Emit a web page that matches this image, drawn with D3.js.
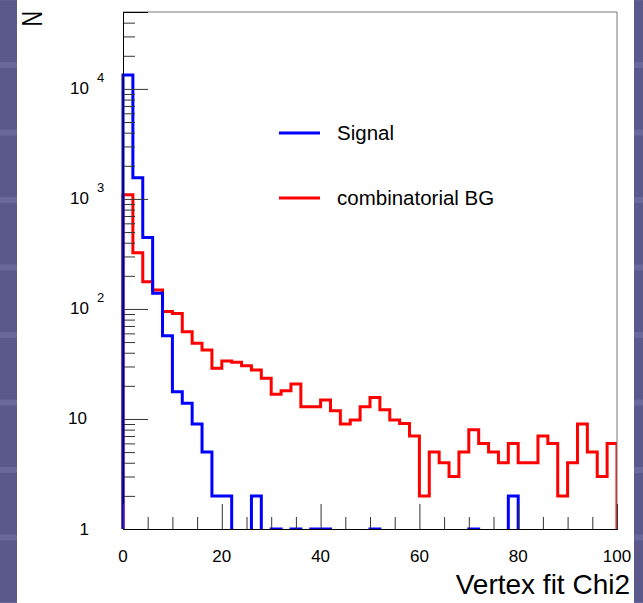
<!DOCTYPE html>
<html>
<head>
<meta charset="utf-8">
<script src="https://cdn.jsdelivr.net/npm/d3@7"></script>
<style>
  body { margin: 0; background: #5b598b; }
  text { font-family: "Liberation Sans", Arial, Helvetica, sans-serif; fill: #000; }
</style>
</head>
<body>
<div id="chart-area"></div>
<script>
// Histogram data, bins of width 2 from 0 to 100
const binEdges = d3.range(0, 101, 2);
const signal = [
  13400, 1560, 445, 139, 57, 17.7, 13.9, 9, 5, 2,
  2, 0, 0, 2, 0, 1, 0, 1, 0, 1,
  1, 0, 0, 0, 0, 1, 0, 0, 0, 0,
  0, 0, 0, 0, 0, 1, 0, 0, 0, 2,
  0, 0, 0, 0, 0, 0, 0, 0, 0, 0
];
const combBG = [
  1090, 325, 177, 149, 95, 91, 62, 48.7, 42.4, 28.9,
  33.7, 32.8, 30.5, 27.9, 23.4, 16.8, 18.1, 20.8, 12.9, 12.9,
  14.9, 11.9, 9, 9.8, 12.9, 15.7, 12.1, 9.8, 9.1, 7,
  2, 5, 4, 3, 5, 8, 6, 5, 4, 6,
  4, 4, 7, 6, 2, 4, 9, 5, 3, 6
];
const seriesNames = ["Signal", "combinatorial BG"];
const seriesColors = ["#0000ff", "#ff0000"];
const xTicks = [0, 20, 40, 60, 80, 100];
const yTicks = [1, 10, 100, 1000, 10000];

const W = 643, H = 603;
const frame = { left: 123, right: 617, top: 12, bottom: 529 };

const svg = d3.select("#chart-area")
  .append("svg")
    .attr("width", W)
    .attr("height", H);

// slide background with faint stripes, white canvas on top
svg.append("rect").attr("width", W).attr("height", H).attr("fill", "#5b598b");
svg.selectAll(".stripe")
  .data(d3.range(-1, 9))
  .enter().append("rect")
    .attr("class", "stripe")
    .attr("x", 0)
    .attr("y", d => 62 + d * 67.5)
    .attr("width", W)
    .attr("height", 6)
    .attr("fill", "#6a689a");
svg.append("rect")
  .attr("x", 17).attr("y", 0)
  .attr("width", 617).attr("height", H)
  .attr("fill", "#fff");

// Scales
const x = d3.scaleLinear().domain([0, 100]).range([frame.left, frame.right]);
const y = d3.scaleLog().domain([1, 50000]).range([frame.bottom, frame.top]);

svg.append("clipPath").attr("id", "clip")
  .append("rect")
    .attr("x", frame.left - 2)
    .attr("y", frame.top)
    .attr("width", frame.right - frame.left + 2)
    .attr("height", frame.bottom - frame.top);

// step path, empty bins fall below the frame
function stepPath(values) {
  const yv = v => v > 0 ? y(v) : frame.bottom + 20;
  let p = `M${x(0)},${frame.bottom + 20}`;
  values.forEach((v, i) => {
    p += `L${x(binEdges[i])},${yv(v)}L${x(binEdges[i + 1])},${yv(v)}`;
  });
  p += `L${x(100)},${frame.bottom + 20}`;
  return p;
}

const hist = svg.append("g").attr("clip-path", "url(#clip)");
[combBG, signal].forEach((vals, k) => {
  hist.append("path")
    .attr("d", stepPath(vals))
    .attr("fill", "none")
    .attr("stroke", seriesColors[1 - k])
    .attr("stroke-width", 3)
    .attr("stroke-linejoin", "miter");
});

// Frame
svg.append("line")
  .attr("x1", frame.left).attr("x2", frame.right)
  .attr("y1", frame.top).attr("y2", frame.top)
  .attr("stroke", "#777");
svg.append("line")
  .attr("x1", frame.right).attr("x2", frame.right)
  .attr("y1", frame.top).attr("y2", frame.bottom)
  .attr("stroke", "#777");

// Axes (ticks drawn inward)
const yMinor = [];
for (let e = 0; e <= 4; e++) {
  for (let m = 2; m <= 9; m++) {
    const v = m * Math.pow(10, e);
    if (v <= 50000) yMinor.push(v);
  }
}
const yAxis = d3.axisRight(y)
  .tickValues(yTicks)
  .tickSize(25)
  .tickFormat("");
const yAxisMinor = d3.axisRight(y)
  .tickValues(yMinor)
  .tickSize(12)
  .tickFormat("");
const xMinor = d3.range(5, 100, 5).filter(d => d % 20 !== 0);
const xAxis = d3.axisTop(x)
  .tickValues(xTicks)
  .tickSize(25)
  .tickFormat("");
const xAxisMinor = d3.axisTop(x)
  .tickValues(xMinor)
  .tickSize(12)
  .tickFormat("");

[yAxisMinor, yAxis].forEach(ax => {
  svg.append("g")
    .attr("transform", `translate(${frame.left},0)`)
    .call(ax)
    .call(g => g.select(".domain").attr("stroke", "#000"))
    .call(g => g.selectAll(".tick line").attr("stroke", "#333"));
});
[xAxisMinor, xAxis].forEach(ax => {
  svg.append("g")
    .attr("transform", `translate(0,${frame.bottom})`)
    .call(ax)
    .call(g => g.select(".domain").attr("stroke", "#000"))
    .call(g => g.selectAll(".tick line").attr("stroke", "#333"));
});

// Tick labels
svg.selectAll(".xlab")
  .data(xTicks)
  .enter().append("text")
    .attr("class", "xlab")
    .attr("x", d => x(d))
    .attr("y", 562)
    .attr("text-anchor", "middle")
    .style("font-size", "17px")
    .text(d => d);

yTicks.forEach(v => {
  const e = Math.round(Math.log10(v));
  const ty = y(v);
  if (e <= 1) {
    svg.append("text")
      .attr("x", e === 0 ? 89 : 87)
      .attr("y", ty + 5.5)
      .attr("text-anchor", "end")
      .style("font-size", "17px")
      .text(v);
  } else {
    svg.append("text")
      .attr("x", 89)
      .attr("y", ty + 5.5)
      .attr("text-anchor", "end")
      .style("font-size", "17px")
      .text("10");
    svg.append("text")
      .attr("x", 97)
      .attr("y", ty - 6.5)
      .style("font-size", "13px")
      .text(e);
  }
});

// Axis titles
svg.append("text")
  .attr("x", 630)
  .attr("y", 594)
  .attr("text-anchor", "end")
  .style("font-size", "28px")
  .text("Vertex fit Chi2");

svg.append("text")
  .attr("transform", "translate(42,11) rotate(-90) scale(0.72,1)")
  .attr("text-anchor", "end")
  .style("font-size", "30px")
  .text("N");

// Legend
const legend = svg.selectAll(".legend")
  .data(seriesNames)
  .enter().append("g")
    .attr("class", "legend")
    .attr("transform", (d, i) => `translate(0,${133 + i * 65})`);

legend.append("line")
  .attr("x1", 279).attr("x2", 320)
  .attr("stroke", (d, i) => seriesColors[i])
  .attr("stroke-width", 3);

legend.append("text")
  .attr("x", 337)
  .attr("y", 6.5)
  .style("font-size", "20.5px")
  .text(d => d);
</script>
</body>
</html>
